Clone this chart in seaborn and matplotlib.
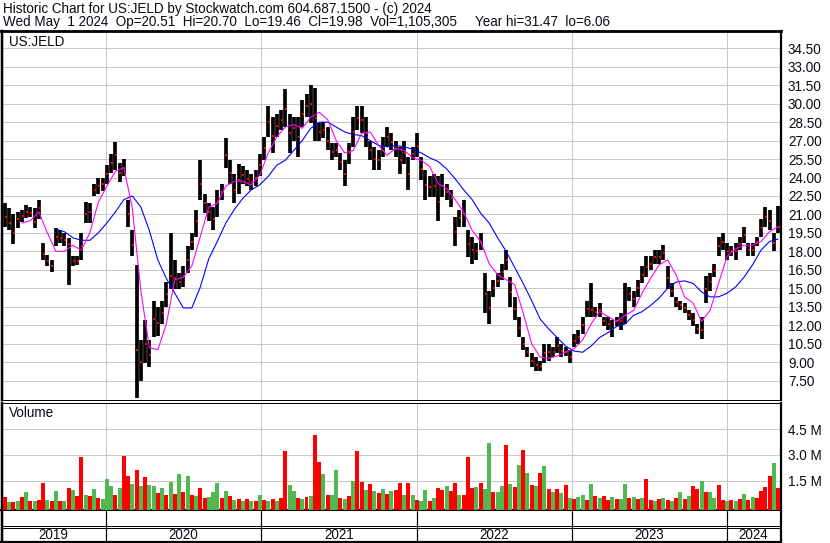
import numpy as np
import pandas as pd
import matplotlib
matplotlib.use("Agg")
import matplotlib.pyplot as plt
import matplotlib.dates as mdates
import seaborn as sns

# ---------------- data (10-day samples) ----------------
end_date = "2024-05-01"
n_bars = 183

high = [21.9, 21.5, 21.0, 21.2, 21.4, 21.8, 21.6, 21.5, 22.2, 18.7,
        17.7, 17.3, 19.9, 19.7, 19.5, 19.1, 17.6, 17.6, 19.5, 22.0,
        21.9, 23.5, 24.0, 24.0, 25.0, 25.9, 26.9, 25.2, 25.5, 22.2,
        19.7, 16.9, 10.8, 12.4, 10.8, 14.0, 13.5, 14.0, 15.5, 19.5,
        17.3, 16.2, 16.8, 18.4, 19.5, 21.4, 25.4, 22.7, 21.9, 21.6,
        23.0, 23.5, 27.2, 25.4, 24.3, 25.1, 24.9, 24.6, 24.3, 24.6,
        25.9, 27.3, 29.8, 28.9, 29.2, 29.5, 31.2, 29.2, 28.9, 28.9,
        30.3, 30.8, 31.5, 31.3, 28.4, 28.5, 28.1, 26.8, 26.8, 26.0,
        25.4, 26.8, 28.9, 29.8, 29.8, 28.9, 27.0, 26.5, 26.2, 27.3,
        28.1, 27.6, 27.0, 26.5, 27.0, 25.7, 26.5, 27.6, 25.7, 24.6,
        24.1, 24.3, 24.1, 24.3, 23.5, 23.0, 20.8, 21.4, 22.2, 19.7,
        19.2, 18.7, 19.5, 16.2, 14.8, 15.7, 16.2, 17.0, 18.1, 15.9,
        14.3, 12.7, 11.0, 10.2, 9.7, 9.4, 9.1, 10.5, 10.5, 10.2,
        11.0, 10.5, 10.2, 10.0, 11.3, 11.6, 12.7, 14.0, 15.4, 13.5,
        13.8, 12.7, 12.7, 12.4, 12.7, 13.0, 15.4, 15.1, 14.8, 15.7,
        16.8, 17.6, 17.6, 18.1, 18.1, 18.5, 16.8, 15.4, 14.3, 14.0,
        13.8, 13.2, 13.0, 12.1, 12.7, 16.0, 16.2, 17.0, 19.2, 19.5,
        18.7, 18.4, 18.7, 19.2, 20.0, 18.7, 18.7, 19.2, 20.6, 21.6,
        21.4, 19.5, 21.7]

low = [20.0, 19.7, 18.6, 19.9, 20.4, 20.7, 20.8, 19.9, 20.6, 17.3,
       16.8, 16.3, 18.4, 18.7, 18.4, 15.3, 16.8, 16.9, 17.3, 20.3,
       20.3, 22.5, 22.7, 22.9, 23.5, 24.4, 24.6, 23.6, 24.1, 20.0,
       17.6, 6.06, 7.5, 8.9, 8.6, 11.0, 11.1, 12.1, 13.5, 14.9,
       14.9, 14.9, 15.1, 16.2, 18.1, 19.2, 22.2, 21.1, 20.5, 19.7,
       20.8, 22.2, 24.8, 23.5, 21.9, 22.7, 23.5, 23.3, 23.0, 23.3,
       24.1, 25.4, 27.3, 26.0, 27.3, 27.9, 28.1, 26.0, 27.0, 25.7,
       28.1, 28.9, 28.4, 27.0, 27.0, 27.2, 26.2, 25.4, 25.7, 24.6,
       23.3, 25.1, 26.5, 27.9, 27.6, 26.5, 25.4, 24.6, 24.6, 25.7,
       26.5, 26.2, 25.7, 24.3, 25.1, 23.0, 25.4, 25.7, 23.8, 22.2,
       22.4, 22.4, 20.5, 22.4, 22.2, 21.6, 18.4, 20.0, 20.0, 17.5,
       17.0, 17.3, 18.1, 13.0, 12.1, 14.3, 15.1, 15.7, 16.5, 13.5,
       12.4, 11.0, 10.0, 9.4, 8.6, 8.3, 8.3, 8.9, 9.1, 9.4,
       9.7, 9.4, 9.5, 8.9, 10.2, 10.5, 11.3, 12.7, 12.7, 12.7,
       12.7, 11.9, 11.6, 11.0, 11.9, 11.6, 12.1, 14.0, 13.5, 14.3,
       15.4, 15.9, 16.5, 17.0, 17.0, 17.3, 14.9, 14.3, 13.5, 13.2,
       13.0, 12.4, 11.9, 11.3, 10.9, 13.8, 14.8, 15.9, 17.6, 18.1,
       17.3, 17.6, 17.3, 18.1, 18.7, 17.6, 17.6, 18.4, 19.2, 20.0,
       19.7, 18.0, 19.46]

close = [20.8, 20.3, 19.5, 20.6, 20.9, 21.2, 21.1, 20.4, 21.5, 17.8,
         17.2, 16.8, 19.2, 19.1, 18.9, 18.6, 17.2, 17.2, 18.4, 21.0,
         21.2, 23.0, 23.3, 23.5, 24.3, 25.2, 25.8, 24.4, 24.8, 21.0,
         18.5, 10.0, 9.0, 10.5, 9.6, 12.5, 12.2, 13.0, 14.5, 16.0,
         15.8, 15.5, 16.0, 17.3, 18.8, 20.5, 23.5, 21.9, 21.2, 20.6,
         22.0, 22.8, 25.8, 24.4, 23.0, 23.8, 24.2, 23.9, 23.6, 24.0,
         25.0, 26.4, 28.5, 27.4, 28.2, 28.7, 29.6, 27.6, 28.0, 27.3,
         29.2, 29.8, 30.0, 28.8, 27.7, 27.9, 27.0, 26.1, 26.2, 25.3,
         24.3, 26.0, 27.7, 28.8, 28.7, 27.6, 26.2, 25.5, 25.4, 26.5,
         27.3, 26.9, 26.3, 25.4, 26.0, 24.3, 25.9, 26.6, 24.7, 23.4,
         23.2, 23.3, 22.0, 23.3, 22.8, 22.3, 19.6, 20.7, 21.0, 18.6,
         18.1, 18.0, 18.8, 14.5, 13.4, 15.0, 15.6, 16.3, 17.3, 14.7,
         13.3, 11.8, 10.5, 9.8, 9.1, 8.8, 8.7, 9.7, 9.8, 9.8,
         10.3, 9.9, 9.8, 9.4, 10.7, 11.0, 12.0, 13.3, 13.2, 13.1,
         13.2, 12.3, 12.1, 11.7, 12.3, 12.3, 12.8, 14.5, 14.1, 15.0,
         16.1, 16.7, 17.0, 17.5, 17.5, 17.9, 15.8, 14.8, 13.9, 13.6,
         13.4, 12.8, 12.4, 11.7, 11.6, 14.9, 15.5, 16.4, 18.4, 18.8,
         18.0, 18.0, 18.0, 18.6, 19.3, 18.1, 18.1, 18.8, 19.9, 20.8,
         20.5, 18.7, 19.98]

# moving averages, read every second sample (last value = last bar)
ma_fast = [20.3, 20.5, 21.2, 19.5, 18.0, 18.0, 18.5, 18.1, 19.5, 22.0,
           23.3, 24.5, 24.8, 21.5, 14.8, 10.2, 10.0, 12.1, 15.7, 15.9,
           16.8, 19.2, 21.6, 21.9, 23.3, 23.7, 23.7, 23.4, 24.2, 26.0,
           27.3, 28.1, 28.3, 28.0, 28.9, 29.3, 28.7, 27.0, 26.0, 26.2,
           27.6, 27.7, 26.6, 25.8, 26.4, 26.2, 25.6, 25.4, 24.9, 23.5,
           23.1, 22.2, 21.2, 19.7, 18.8, 17.0, 16.1, 15.7, 15.3, 13.0,
           10.5, 9.4, 9.3, 9.5, 9.8, 10.1, 10.8, 12.1, 13.1, 12.7,
           12.3, 12.8, 13.2, 14.6, 15.8, 16.9, 17.3, 16.1, 14.3, 13.8,
           12.3, 13.2, 15.4, 17.6, 18.2, 18.5, 18.5, 18.8, 19.6, 20.0]

ma_slow = [19.8, 19.6, 19.1, 18.9, 18.9, 19.5, 20.3, 21.2, 22.2, 22.5,
           21.6, 19.7, 17.3, 15.8, 14.6, 13.4, 13.4, 15.1, 17.4, 18.8,
           20.3, 21.4, 22.3, 23.0, 23.4, 24.1, 25.0, 25.4, 26.2, 27.0,
           28.0, 28.5, 28.5, 28.1, 27.7, 27.5, 27.4, 27.0, 26.6, 26.5,
           26.6, 26.5, 26.3, 26.0, 25.6, 25.3, 24.7, 23.9, 23.0, 22.2,
           21.1, 20.3, 19.1, 18.0, 16.7, 15.4, 14.0, 12.5, 11.7, 11.0,
           10.3, 9.9, 9.8, 10.3, 11.0, 11.4, 11.9, 12.1, 12.8, 13.1,
           13.6, 14.2, 15.0, 15.5, 15.6, 15.4, 14.7, 14.3, 14.3, 14.6,
           15.1, 15.9, 16.9, 18.1, 18.8, 19.0]

# volume in millions, 1 = up day (green), 0 = down day (red)
volume = [0.55, 0.25, 0.25, 0.3, 0.55, 0.85, 0.3, 0.35, 0.4, 1.37,
          0.4, 0.35, 0.9, 0.3, 0.35, 1.1, 0.95, 0.6, 2.87, 0.65,
          0.6, 1.0, 0.5, 0.45, 1.58, 1.2, 0.7, 1.1, 2.96, 1.8,
          1.3, 2.1, 1.2, 1.7, 1.25, 1.2, 0.8, 1.1, 0.7, 1.4,
          0.75, 1.9, 0.85, 1.8, 0.65, 0.6, 1.08, 0.5, 0.55, 0.85,
          1.38, 0.5, 0.9, 0.6, 0.4, 0.45, 0.3, 0.45, 0.35, 0.3,
          0.7, 0.4, 0.35, 0.45, 0.3, 0.5, 3.2, 1.23, 0.88, 0.5,
          0.45, 0.55, 0.6, 4.17, 2.6, 1.9, 0.7, 0.7, 2.15, 0.5,
          0.45, 0.6, 1.46, 3.25, 1.42, 0.94, 1.33, 0.9, 0.8, 1.0,
          0.75, 0.9, 0.94, 1.38, 0.7, 1.38, 0.65, 0.4, 0.35, 0.94,
          0.35, 0.5, 1.08, 0.95, 1.2, 0.9, 1.38, 0.7, 0.65, 2.85,
          1.1, 1.15, 1.38, 1.0, 3.7, 0.85, 0.85, 1.2, 3.6, 1.3,
          1.15, 2.44, 3.3, 1.95, 1.27, 1.2, 1.96, 2.38, 1.0, 0.85,
          1.04, 0.8, 1.27, 0.5, 0.45, 0.55, 0.7, 0.4, 1.33, 0.6,
          0.5, 0.6, 0.4, 0.55, 0.45, 0.45, 1.33, 0.5, 0.55, 0.45,
          0.5, 1.58, 0.4, 0.35, 0.45, 0.5, 0.4, 0.35, 0.5, 0.85,
          0.45, 0.6, 1.2, 1.04, 1.46, 0.85, 0.85, 0.5, 1.23, 0.4,
          0.35, 0.4, 0.35, 0.45, 0.75, 0.4, 0.55, 0.5, 0.88, 1.13,
          1.75, 2.5, 1.1]

up_day = [0, 1, 0, 1, 0, 1, 0, 1, 0, 0,
          1, 0, 1, 0, 1, 0, 1, 0, 0, 1,
          0, 1, 0, 1, 1, 1, 0, 1, 0, 0,
          1, 0, 1, 0, 1, 1, 0, 1, 0, 1,
          0, 1, 0, 1, 0, 1, 0, 0, 1, 1,
          1, 0, 1, 0, 1, 0, 1, 0, 1, 0,
          1, 0, 1, 0, 1, 0, 0, 1, 1, 0,
          1, 0, 1, 0, 0, 1, 0, 1, 1, 0,
          1, 0, 1, 0, 0, 1, 0, 1, 0, 1,
          0, 1, 0, 0, 1, 0, 1, 0, 1, 1,
          0, 1, 0, 0, 1, 0, 0, 1, 0, 0,
          0, 1, 0, 1, 1, 0, 1, 1, 0, 1,
          0, 1, 0, 1, 0, 1, 0, 1, 0, 1,
          0, 1, 0, 1, 0, 1, 1, 0, 1, 0,
          1, 0, 0, 1, 0, 1, 1, 0, 1, 0,
          1, 0, 0, 1, 0, 1, 0, 1, 0, 1,
          0, 1, 0, 0, 1, 0, 1, 1, 0, 0,
          1, 0, 1, 0, 1, 0, 1, 0, 0, 0,
          0, 1, 0]

price_ticks = [7.5, 9.0, 10.5, 12.0, 13.5, 15.0, 16.5, 18.0, 19.5, 21.0, 22.5,
               24.0, 25.5, 27.0, 28.5, 30.0, 31.5, 33.0, 34.5]
volume_ticks = [1.5, 3.0, 4.5]
volume_tick_labels = ["1.5 M", "3.0 M", "4.5 M"]
years = [2019, 2020, 2021, 2022, 2023, 2024]

title_line1 = "Historic Chart for US:JELD by Stockwatch.com 604.687.1500 - (c) 2024"
title_line2a = ("Wed May  1 2024  Op=20.51  Hi=20.70  Lo=19.46  Cl=19.98  "
                "Vol=1,105,305")
title_line2b = "Year hi=31.47  lo=6.06"

# ---------------- build frames ----------------
dates = pd.date_range(end=end_date, periods=n_bars, freq="10D")
xnum = mdates.date2num(dates)
df = pd.DataFrame({"x": xnum, "high": high, "low": low, "close": close,
                   "vol": volume, "up": up_day})
fast_df = pd.DataFrame({"x": xnum[n_bars - 1 - 2 * (len(ma_fast) - 1)::2], "v": ma_fast})
slow_df = pd.DataFrame({"x": xnum[n_bars - 1 - 2 * (len(ma_slow) - 1)::2], "v": ma_slow})

# ---------------- figure ----------------
sns.set_style("white")
plt.rcParams["font.family"] = ["Liberation Sans", "DejaVu Sans"]
TXT = "#0a0a14"
GRID = "#c8c8c8"
PX = 0.72  # one pixel in points
FS = 9.75

W, H = 830, 543
fig = plt.figure(figsize=(W / 100, H / 100), dpi=100)
fig.patch.set_facecolor("white")


def ax_px(x0, y0, x1, y1):
    return fig.add_axes([x0 / W, 1 - y1 / H, (x1 - x0) / W, (y1 - y0) / H])


ax_p = ax_px(1.5, 31, 781, 400)
ax_v = ax_px(1.5, 402.5, 781, 509.5)
ax_y = ax_px(1.5, 510.5, 781, 541.5)

xlo = mdates.date2num(pd.Timestamp("2019-04-30"))
xhi = mdates.date2num(pd.Timestamp("2024-05-08"))
year_starts = [mdates.date2num(pd.Timestamp(f"{y}-01-01")) for y in years[1:]]

for ax in (ax_p, ax_v, ax_y):
    ax.set_xlim(xlo, xhi)
    ax.set_facecolor("white")
    for s in ax.spines.values():
        s.set_color("black")
    ax.spines["left"].set_linewidth(2.5 * PX)
    ax.spines["right"].set_linewidth(2.2 * PX)

# ---- price panel ----
ax_p.set_ylim(5.92, 35.906)
ax_p.set_yticks(price_ticks)
ax_p.set_yticklabels([f"{t:.2f}" for t in price_ticks])
ax_p.set_xticks(year_starts)
ax_p.grid(True, color=GRID, lw=1 * PX)
ax_p.set_axisbelow(True)
ax_p.yaxis.tick_right()
ax_p.tick_params(axis="y", length=0, pad=5, labelsize=FS, labelcolor=TXT)
ax_p.tick_params(axis="x", length=0, labelbottom=False)
ax_p.spines["top"].set_linewidth(2.8 * PX)
ax_p.spines["bottom"].set_linewidth(1 * PX)

ax_p.vlines(df["x"], df["low"], df["high"], color="black", lw=3.7 * PX, zorder=3)
ax_p.scatter(df["x"] + 1.5, df["close"], s=2.6, marker="s", color="#ff0000",
             linewidths=0, zorder=4)
sns.lineplot(data=slow_df, x="x", y="v", ax=ax_p, color="#0000ff", lw=1.1 * PX,
             sort=False, estimator=None, zorder=5)
sns.lineplot(data=fast_df, x="x", y="v", ax=ax_p, color="#ff00ff", lw=1.1 * PX,
             sort=False, estimator=None, zorder=6)
ax_p.set_xlabel("")
ax_p.set_ylabel("")

# ---- volume panel ----
vbase = -0.17
ax_v.set_ylim(vbase, 6.04)
ax_v.set_yticks(volume_ticks)
ax_v.set_yticklabels(volume_tick_labels)
ax_v.set_xticks(year_starts)
ax_v.grid(True, color=GRID, lw=1 * PX)
ax_v.set_axisbelow(True)
ax_v.yaxis.tick_right()
ax_v.tick_params(axis="y", length=0, pad=5, labelsize=FS, labelcolor=TXT)
ax_v.tick_params(axis="x", length=0, labelbottom=False)
ax_v.spines["top"].set_linewidth(1 * PX)
ax_v.spines["bottom"].set_linewidth(2.2 * PX)
vcolors = ["#4fb84f" if u else "#ff0000" for u in df["up"]]
ax_v.bar(df["x"], df["vol"] - vbase, bottom=vbase, width=9.4, color=vcolors,
         linewidth=0, zorder=3)

# ---- year strip ----
ax_y.set_ylim(0, 1)
ax_y.set_xticks([])
ax_y.set_yticks([])
ax_y.spines["top"].set_visible(False)
ax_y.spines["bottom"].set_linewidth(2.2 * PX)
for xs in year_starts:
    ax_y.axvline(xs, color="black", lw=1.2 * PX)
ax_y.axhline(0.5, color="black", lw=1 * PX)
ax_y.axhline(0.43, color="black", lw=1 * PX)
bounds = [xlo] + year_starts + [xhi - 1.5]
for i, yr in enumerate(years):
    ax_y.text((bounds[i] + bounds[i + 1]) / 2, 0.215, str(yr), ha="center",
              va="center", fontsize=FS, color=TXT)

# ---- texts ----
fig.text(3 / W, 1 - 8.5 / H, title_line1, ha="left", va="center", fontsize=FS, color=TXT)
fig.text(3 / W, 1 - 22 / H, title_line2a, ha="left", va="center", fontsize=FS, color=TXT)
fig.text(475 / W, 1 - 22 / H, title_line2b, ha="left", va="center", fontsize=FS, color=TXT)
fig.text(9 / W, 1 - 42 / H, "US:JELD", ha="left", va="center", fontsize=FS, color=TXT)
fig.text(9 / W, 1 - 413 / H, "Volume", ha="left", va="center", fontsize=FS, color=TXT)

fig.savefig("out.png", dpi=100, facecolor="white")
